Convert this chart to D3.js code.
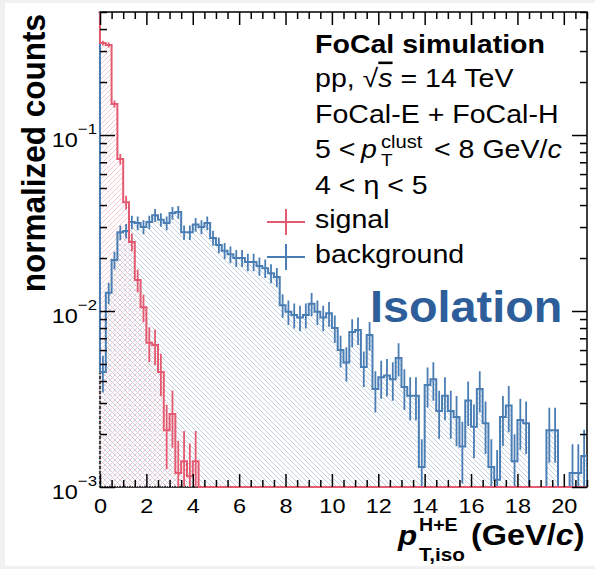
<!DOCTYPE html>
<html lang="en">
<head>
<meta charset="UTF-8">
<title>FoCal isolation</title>
<script src="https://d3js.org/d3.v7.min.js"></script>
<style>
    body { margin: 0; background: #ffffff; }
    svg { display: block; font-family: "Liberation Sans", Arial, Helvetica, sans-serif; }
    .frame { fill: none; stroke: #000; stroke-width: 1.5px; }
    .axis .tick line { stroke: #000; stroke-width: 1.5px; }
    .axis .domain { display: none; }
</style>
</head>
<body>
<div id="chart"></div>
<script>
    // histogram bins of 0.25 GeV/c; the first value is the [-0.25, 0) bin (off scale)
    const binStart = -0.25;
    const binWidth = 0.25;
    const xMax = 21;

    const signal = [0.8,
        0.333, 0.325, 0.150, 0.073, 0.0415, 0.0247, 0.0150, 0.0105, 0.0066, 0.0064,
        0.0045, 0.0021, 0.0026, 0.0012, 0.0014, 0.00115, 0.0014];

    const background = [0.8,
        0.0045, 0.0127, 0.0195, 0.028, 0.0285, 0.032, 0.0316, 0.030, 0.032, 0.035,
        0.033, 0.0316, 0.036, 0.0365, 0.028, 0.028, 0.031, 0.030, 0.0316, 0.026,
        0.0237, 0.022, 0.021, 0.020, 0.020, 0.019, 0.019, 0.018, 0.0175, 0.0164,
        0.0156, 0.0108, 0.0099, 0.0095, 0.0092, 0.0095, 0.011, 0.0099, 0.0092, 0.0097,
        0.008, 0.006, 0.0051, 0.0076, 0.0078, 0.0048, 0.0073, 0.0036, 0.0042, 0.0043,
        0.0041, 0.0054, 0.0037, 0.0033, 0.0033, 0.0013, 0.0038, 0.0041, 0.0027, 0.0033,
        0.0027, 0.0025, 0.0017, 0.0031, 0.0022, 0.0036, 0.0023, 0.0013, 0.0011, 0.0025,
        0.0029, 0.0014, 0.0024, 0.0023, 0, 0, 0, 0.0021, 0.0021, 0,
        0, 0.0012, 0.0012, 0.0015];

    // number of entries behind the normalisation, used for the Poisson error bars
    const signalEntries = 3000;
    const backgroundEntries = 4000;

    const xMajorTicks = [0, 2, 4, 6, 8, 10, 12, 14, 16, 18, 20];
    const yMajorTicks = [1e-3, 1e-2, 1e-1];
    const yTickExponents = ["\u22123", "\u22122", "\u22121"];

    const legendItems = [
        { label: "signal", color: "#e45a70" },
        { label: "background", color: "#4a7db3" }
    ];

    const W = 595, H = 569;
    const plot = { left: 100, right: 587, top: 12, bottom: 487 };
    const stretch = 1.12;   // the original picture is a bit wider than tall

    const svg = d3.select("#chart").append("svg")
        .attr("width", W)
        .attr("height", H);

    // light grey edge of the screenshot
    svg.append("rect").attr("x", 0).attr("y", 0).attr("width", W).attr("height", H).attr("fill", "#f1f1f1");
    svg.append("rect").attr("x", 5).attr("y", 3).attr("width", W - 5).attr("height", H - 6).attr("fill", "#ffffff");

    const x = d3.scaleLinear().domain([0, xMax]).range([plot.left, plot.right]);
    const y = d3.scaleLog().domain([1e-3, 0.5]).range([plot.bottom, plot.top]).clamp(true);

    const defs = svg.append("defs");
    defs.append("clipPath").attr("id", "plot-clip")
        .append("rect")
        .attr("x", plot.left - 1.5).attr("y", plot.top)
        .attr("width", plot.right - plot.left + 1.5).attr("height", plot.bottom - plot.top + 1.5);

    function hatch(id, color, forward) {
        const s = 5;
        const p = defs.append("pattern").attr("id", id)
            .attr("patternUnits", "userSpaceOnUse")
            .attr("width", s).attr("height", s);
        const d = forward
            ? `M0,${s} L${s},0 M-1,1 L1,-1 M${s - 1},${s + 1} L${s + 1},${s - 1}`
            : `M0,0 L${s},${s} M-1,${s - 1} L1,${s + 1} M${s - 1},-1 L${s + 1},1`;
        p.append("path").attr("d", d).attr("stroke", color).attr("stroke-width", 0.9);
    }
    hatch("hatch-bkg", "#b8cadc", false);
    hatch("hatch-sig", "#f4c3cb", true);

    // frame first, the histograms are drawn over it like in the original
    svg.append("rect").attr("class", "frame")
        .attr("x", plot.left).attr("y", plot.top)
        .attr("width", plot.right - plot.left).attr("height", plot.bottom - plot.top);

    const yv = v => y(v > 0 ? v : 1e-6);

    function stepPoints(values) {
        const pts = [[x(binStart), plot.bottom]];
        const n = Math.round((xMax - binStart) / binWidth);
        for (let i = 0; i < n; i++) {
            const v = i < values.length ? values[i] : 0;
            const lo = binStart + i * binWidth, hi = lo + binWidth;
            pts.push([x(lo), yv(v)], [x(hi), yv(v)]);
        }
        pts.push([x(xMax), plot.bottom]);
        return pts;
    }

    const line = d3.line();
    const content = svg.append("g").attr("clip-path", "url(#plot-clip)");

    function drawHist(values, entries, color, fillId) {
        const pts = stepPoints(values);
        content.append("path")
            .attr("d", line(pts) + "Z")
            .attr("fill", `url(#${fillId})`)
            .attr("stroke", "none");
        return function drawLine() {
            content.append("path")
                .attr("d", line(pts))
                .attr("fill", "none")
                .attr("stroke", color)
                .attr("stroke-width", 2);
            const bars = values.map((v, i) => ({ v, c: binStart + (i + 0.5) * binWidth }))
                .filter(d => d.v > 0 && d.c > 0);
            content.selectAll(null)
                .data(bars)
                .enter().append("line")
                .attr("x1", d => x(d.c)).attr("x2", d => x(d.c))
                .attr("y1", d => yv(d.v - Math.sqrt(d.v / entries)))
                .attr("y2", d => yv(d.v + Math.sqrt(d.v / entries)))
                .attr("stroke", color)
                .attr("stroke-width", 1.8);
        };
    }

    const bkgLine = drawHist(background, backgroundEntries, legendItems[1].color, "hatch-bkg");
    const sigLine = drawHist(signal, signalEntries, legendItems[0].color, "hatch-sig");
    bkgLine();
    sigLine();

    // axes, ROOT style ticks inside the frame
    const xMinor = d3.range(0, xMax + 0.01, 0.5).filter(v => v % 2 !== 0);
    const yMinor = [];
    [1e-3, 1e-2, 1e-1].forEach(dec => [2, 3, 4, 5, 6, 7, 8, 9].forEach(m => {
        if (m * dec <= 0.5) yMinor.push(m * dec);
    }));

    const addAxis = (gen, tx, ty) => svg.append("g").attr("class", "axis")
        .attr("transform", `translate(${tx},${ty})`).call(gen);

    const xBottom = addAxis(d3.axisBottom(x).tickValues(xMajorTicks).tickSize(-13).tickPadding(11)
        .tickFormat(d3.format("d")), 0, plot.bottom);
    xBottom.selectAll("text")
        .attr("fill", "#000")
        .style("font-size", "21px")
        .attr("transform", `scale(${stretch},1)`);
    addAxis(d3.axisBottom(x).tickValues(xMinor).tickSize(-7).tickFormat(""), 0, plot.bottom);
    addAxis(d3.axisTop(x).tickValues(xMajorTicks).tickSize(-13).tickFormat(""), 0, plot.top);
    addAxis(d3.axisTop(x).tickValues(xMinor).tickSize(-7).tickFormat(""), 0, plot.top);

    addAxis(d3.axisLeft(y).tickValues(yMajorTicks).tickSize(-15).tickFormat(""), plot.left, 0);
    addAxis(d3.axisLeft(y).tickValues(yMinor).tickSize(-7).tickFormat(""), plot.left, 0);
    addAxis(d3.axisRight(y).tickValues(yMajorTicks).tickSize(-15).tickFormat(""), plot.right, 0);
    addAxis(d3.axisRight(y).tickValues(yMinor).tickSize(-7).tickFormat(""), plot.right, 0);

    // y tick labels as 10^n
    yMajorTicks.forEach((t, i) => {
        const txt = svg.append("text")
            .attr("transform", `translate(97,${y(t) + 11.5}) scale(${stretch},1)`)
            .attr("text-anchor", "end")
            .style("font-size", "21px");
        txt.append("tspan").text("10");
        txt.append("tspan").attr("dy", -13).style("font-size", "15px").text(yTickExponents[i]);
    });

    // helper for text placed at (px, py) with the picture's horizontal stretch
    function label(px, py, size, weight) {
        return svg.append("text")
            .attr("transform", `translate(${px},${py}) scale(${stretch},1)`)
            .style("font-size", size + "px")
            .style("font-weight", weight || "normal")
            .attr("fill", "#000");
    }

    // axis titles
    svg.append("text")
        .attr("transform", "translate(45,14) rotate(-90) scale(1,1.08)")
        .attr("text-anchor", "end")
        .style("font-size", "31.5px")
        .style("font-weight", "bold")
        .text("normalized counts");

    label(398, 545, 28, "bold").style("font-style", "italic").text("p");
    label(419, 531, 17.5, "bold").text("H+E");
    label(419, 561, 18.5, "bold").text("T,iso");
    const unit = label(471, 545, 29, "bold");
    unit.append("tspan").text("(GeV/");
    unit.append("tspan").style("font-style", "italic").text("c");
    unit.append("tspan").text(")");

    // info block
    const fs = 25.5;
    label(315, 53, fs, "bold").text("FoCal simulation");
    const l2 = label(315, 87, fs);
    l2.append("tspan").text("pp, \u221A");
    l2.append("tspan").style("font-style", "italic").style("text-decoration", "overline").text("s");
    l2.append("tspan").text(" = 14 TeV");
    label(315, 123, fs).text("FoCal-E + FoCal-H");
    label(315, 158, fs).text("5 <");
    label(361, 158, fs).style("font-style", "italic").text("p");
    label(381, 148, 18).text("clust");
    label(381, 166, 17).text("T");
    const l4 = label(434, 158, fs);
    l4.append("tspan").text("< 8 GeV/");
    l4.append("tspan").style("font-style", "italic").text("c");
    label(315, 194, fs).text("4 < \u03B7 < 5");

    // legend
    legendItems.forEach((d, i) => {
        const cy = 222 + i * 35;
        svg.append("line").attr("x1", 267).attr("x2", 305).attr("y1", cy).attr("y2", cy)
            .attr("stroke", d.color).attr("stroke-width", 2);
        svg.append("line").attr("x1", 286).attr("x2", 286).attr("y1", cy - 13).attr("y2", cy + 13)
            .attr("stroke", d.color).attr("stroke-width", 2);
        label(315, cy + 6, fs).text(d.label);
    });

    svg.append("text")
        .attr("transform", "translate(370,322) scale(1.04,1)")
        .style("font-size", "45px")
        .style("font-weight", "bold")
        .attr("fill", "#2e5e9a")
        .text("Isolation");
</script>
</body>
</html>
